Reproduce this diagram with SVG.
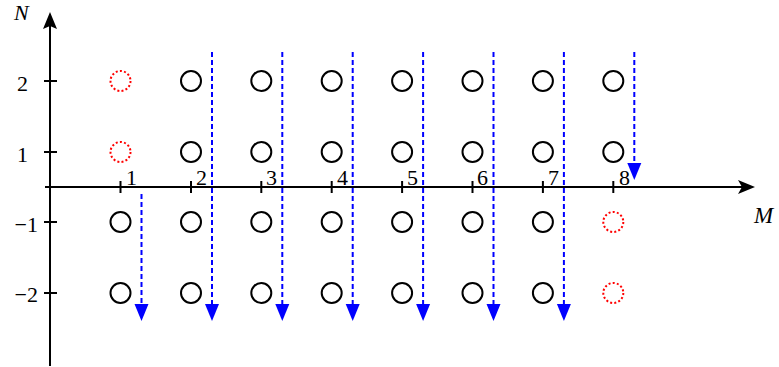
<svg xmlns="http://www.w3.org/2000/svg" width="779" height="367" viewBox="0 0 779 367">
<style>
.ax{stroke:#000;stroke-width:2;fill:none}
.pt{stroke:#000;stroke-width:2;fill:none}
.rd{stroke:#f00;stroke-width:2;fill:none;stroke-dasharray:2 2.2}
.bl{stroke:#00f;stroke-width:2;fill:none;stroke-dasharray:5 3}
.ah{fill:#00f}
</style>
<defs>
<polygon id="bh" class="ah" points="0,0 -7,-17 7,-17"/>
</defs>
<g id="axes">
<line class="ax" x1="50" y1="366" x2="50" y2="26"/>
<polygon points="50,12 43,29 50,26 57,29" fill="#000"/>
<line class="ax" x1="45" y1="187" x2="742" y2="187"/>
<polygon points="755,187 738,180 742,187 738,194" fill="#000"/>
<g stroke="#000" stroke-width="2">
<line x1="44" y1="81" x2="57" y2="81"/>
<line x1="44" y1="152" x2="57" y2="152"/>
<line x1="44" y1="222" x2="57" y2="222"/>
<line x1="44" y1="293" x2="57" y2="293"/>
<line x1="120.5" y1="181" x2="120.5" y2="193"/>
<line x1="191" y1="181" x2="191" y2="193"/>
<line x1="261.3" y1="181" x2="261.3" y2="193"/>
<line x1="331.7" y1="181" x2="331.7" y2="193"/>
<line x1="402.1" y1="181" x2="402.1" y2="193"/>
<line x1="472.5" y1="181" x2="472.5" y2="193"/>
<line x1="542.9" y1="181" x2="542.9" y2="193"/>
<line x1="613.3" y1="181" x2="613.3" y2="193"/>
</g>
<g font-family="Liberation Serif, serif" font-size="22" fill="#000">
<text font-style="italic" x="14" y="20">N</text>
<text font-style="italic" x="754" y="223" font-size="23">M</text>
<text x="28" y="91" text-anchor="end">2</text>
<text x="28" y="162" text-anchor="end">1</text>
<text x="38" y="232" text-anchor="end">−1</text>
<text x="38" y="302" text-anchor="end">−2</text>
<text x="126" y="185">1</text>
<text x="196" y="185">2</text>
<text x="266" y="185">3</text>
<text x="337" y="185">4</text>
<text x="407" y="185">5</text>
<text x="477" y="185">6</text>
<text x="548" y="185">7</text>
<text x="619" y="185">8</text>
</g>
</g>
<g id="nodes">
<g id="r2">
<circle class="rd" cx="120.5" cy="81" r="10"/>
<circle class="pt" cx="191" cy="81" r="10"/>
<circle class="pt" cx="261.3" cy="81" r="10"/>
<circle class="pt" cx="331.7" cy="81" r="10"/>
<circle class="pt" cx="402.1" cy="81" r="10"/>
<circle class="pt" cx="472.5" cy="81" r="10"/>
<circle class="pt" cx="542.9" cy="81" r="10"/>
<circle class="pt" cx="613.3" cy="81" r="10"/>
</g>
<g id="r1">
<circle class="rd" cx="120.5" cy="152" r="10"/>
<circle class="pt" cx="191" cy="152" r="10"/>
<circle class="pt" cx="261.3" cy="152" r="10"/>
<circle class="pt" cx="331.7" cy="152" r="10"/>
<circle class="pt" cx="402.1" cy="152" r="10"/>
<circle class="pt" cx="472.5" cy="152" r="10"/>
<circle class="pt" cx="542.9" cy="152" r="10"/>
<circle class="pt" cx="613.3" cy="152" r="10"/>
</g>
<g id="rm1">
<circle class="pt" cx="120.5" cy="222" r="10"/>
<circle class="pt" cx="191" cy="222" r="10"/>
<circle class="pt" cx="261.3" cy="222" r="10"/>
<circle class="pt" cx="331.7" cy="222" r="10"/>
<circle class="pt" cx="402.1" cy="222" r="10"/>
<circle class="pt" cx="472.5" cy="222" r="10"/>
<circle class="pt" cx="542.9" cy="222" r="10"/>
<circle class="rd" cx="613.3" cy="222" r="10"/>
</g>
<g id="rm2">
<circle class="pt" cx="120.5" cy="293" r="10"/>
<circle class="pt" cx="191" cy="293" r="10"/>
<circle class="pt" cx="261.3" cy="293" r="10"/>
<circle class="pt" cx="331.7" cy="293" r="10"/>
<circle class="pt" cx="402.1" cy="293" r="10"/>
<circle class="pt" cx="472.5" cy="293" r="10"/>
<circle class="pt" cx="542.9" cy="293" r="10"/>
<circle class="rd" cx="613.3" cy="293" r="10"/>
</g>
</g>
<g id="connectors">
<line class="bl" x1="141.5" y1="194" x2="141.5" y2="306"/>
<use href="#bh" x="141.5" y="321"/>
<line class="bl" x1="212" y1="52" x2="212" y2="306"/>
<use href="#bh" x="212" y="321"/>
<line class="bl" x1="282.3" y1="52" x2="282.3" y2="306"/>
<use href="#bh" x="282.3" y="321"/>
<line class="bl" x1="352.7" y1="52" x2="352.7" y2="306"/>
<use href="#bh" x="352.7" y="321"/>
<line class="bl" x1="423.1" y1="52" x2="423.1" y2="306"/>
<use href="#bh" x="423.1" y="321"/>
<line class="bl" x1="493.5" y1="52" x2="493.5" y2="306"/>
<use href="#bh" x="493.5" y="321"/>
<line class="bl" x1="563.9" y1="52" x2="563.9" y2="306"/>
<use href="#bh" x="563.9" y="321"/>
<line class="bl" x1="634.3" y1="52" x2="634.3" y2="165"/>
<use href="#bh" x="634.3" y="180"/>
</g>
</svg>
